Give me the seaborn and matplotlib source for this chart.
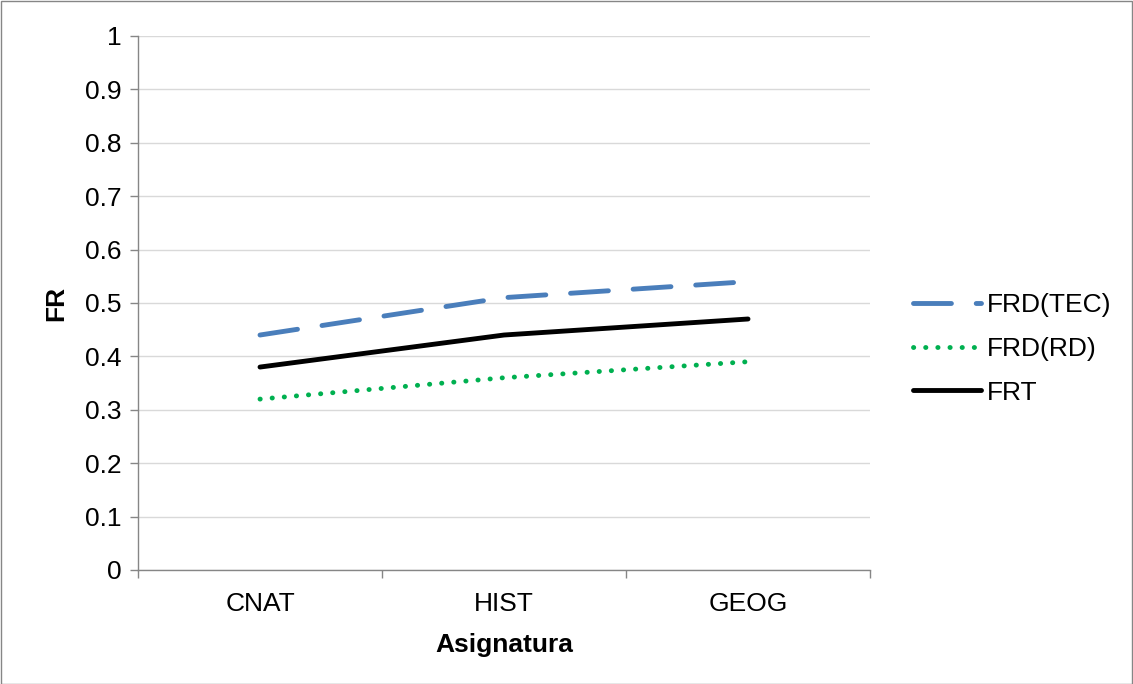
import matplotlib
matplotlib.use("Agg")
import matplotlib.pyplot as plt
import seaborn as sns
import pandas as pd

categories = ["CNAT", "HIST", "GEOG"]
frd_tec = [0.44, 0.51, 0.54]
frd_rd = [0.32, 0.36, 0.39]
frt = [0.38, 0.44, 0.47]
y_ticks = [0, 0.1, 0.2, 0.3, 0.4, 0.5, 0.6, 0.7, 0.8, 0.9, 1]
y_labels = ["0", "0.1", "0.2", "0.3", "0.4", "0.5", "0.6", "0.7", "0.8", "0.9", "1"]

sns.set_theme(style="white")
plt.rcParams["font.family"] = ["Liberation Sans", "DejaVu Sans"]
plt.rcParams["text.color"] = "black"
plt.rcParams["axes.labelcolor"] = "black"
plt.rcParams["xtick.color"] = "black"
plt.rcParams["ytick.color"] = "black"

FS = 19
LW = 3.5

fig = plt.figure(figsize=(11.33, 6.84), dpi=100)
ax = fig.add_axes([0.1218, 0.1667, 0.6461, 0.7807])

x = list(range(len(categories)))
series = [
    ("FRD(TEC)", frd_tec, "#4a7ebb", (0, (7.8, 5.1))),
    ("FRD(RD)", frd_rd, "#00b050", (0, (0.05, 2.45))),
    ("FRT", frt, "#000000", "-"),
]
for name, vals, color, ls in series:
    df = pd.DataFrame({"x": x, "y": vals})
    sns.lineplot(data=df, x="x", y="y", ax=ax, color=color, linewidth=LW,
                 label=name, linestyle=ls, dash_capstyle="round",
                 solid_capstyle="round")

ax.set_xlim(-0.5, 2.5)
ax.set_ylim(0, 1)
ax.set_yticks(y_ticks)
ax.set_yticklabels(y_labels)
ax.set_xticks(x)
ax.set_xticklabels(categories)
ax.set_xticks([-0.5, 0.5, 1.5, 2.5], minor=True)

ax.grid(axis="y", color="#d9d9d9", linewidth=1)
ax.set_axisbelow(True)
for side in ["top", "right"]:
    ax.spines[side].set_visible(False)
for side in ["left", "bottom"]:
    ax.spines[side].set_color("#868686")
    ax.spines[side].set_linewidth(1)

ax.tick_params(axis="y", which="major", length=6, width=1, color="#868686",
               direction="out", left=True, labelsize=FS, pad=6,
               labelcolor="black")
ax.tick_params(axis="x", which="major", length=0, labelsize=FS, pad=16,
               labelcolor="black")
ax.tick_params(axis="x", which="minor", length=6, width=1, color="#868686",
               direction="out", bottom=True)

ax.set_xlabel("Asignatura", fontsize=FS, fontweight="bold", labelpad=12,
              color="black")
ax.set_ylabel("FR", fontsize=FS, fontweight="bold", labelpad=12,
              color="black")

leg = ax.legend(loc="center left", bbox_to_anchor=(1.044, 0.414), frameon=False,
                fontsize=FS, handlelength=2.6, handletextpad=0.2,
                labelspacing=0.75, borderaxespad=0)
for t in leg.get_texts():
    t.set_color("black")

border = plt.Rectangle((0.0005, 0.0005), 0.999, 0.998, transform=fig.transFigure,
                       fill=False, edgecolor="#868686", linewidth=1)
fig.patches.append(border)

fig.savefig("out.png", dpi=100)
